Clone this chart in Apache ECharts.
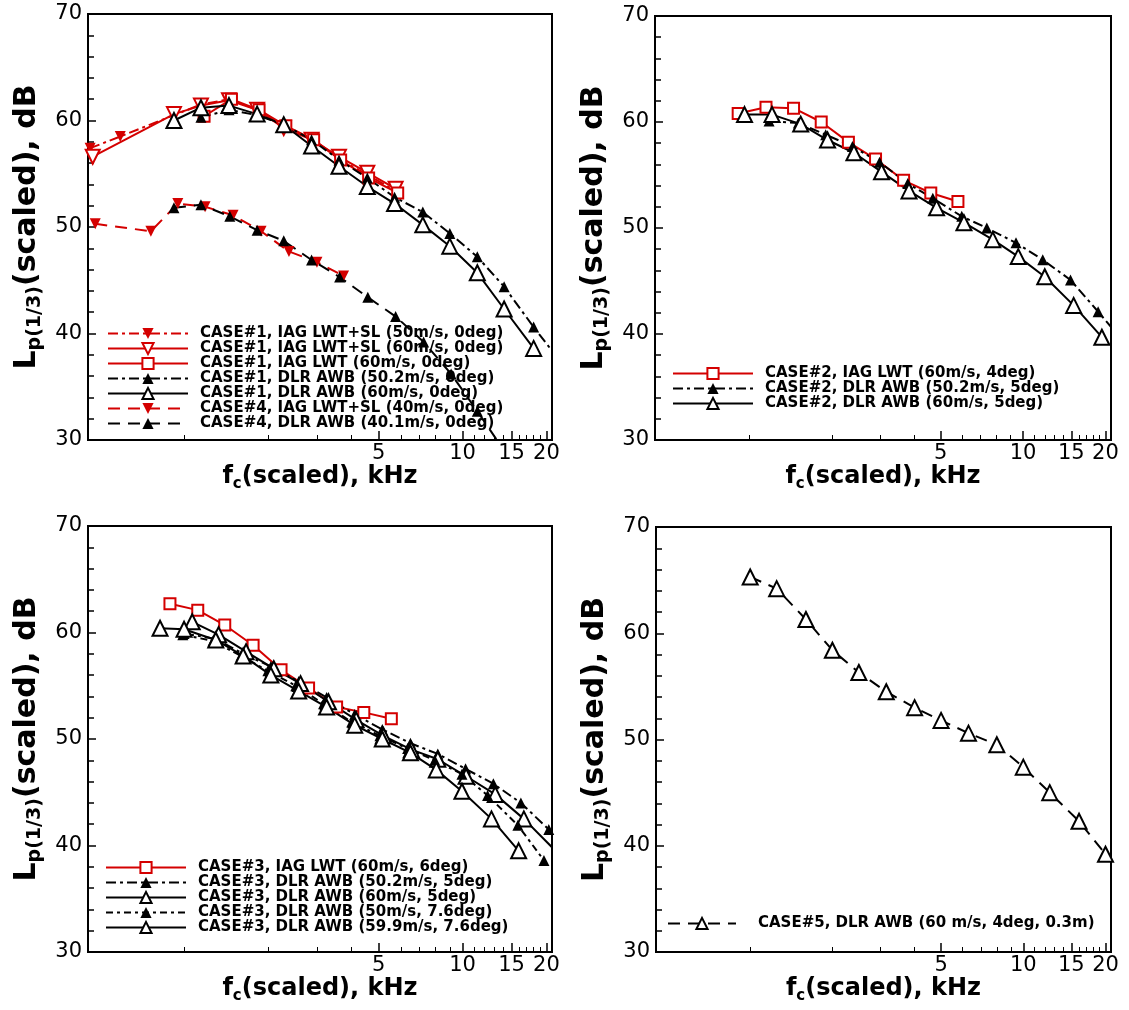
<!DOCTYPE html>
<html>
<head>
<meta charset="utf-8">
<script src="https://cdn.jsdelivr.net/npm/echarts@6.0.0/dist/echarts.min.js"></script>
<style>
  html, body { margin: 0; padding: 0; background: #fff; }
  #chart { width: 1129px; height: 1010px; }
</style>
</head>
<body>
<div id="chart"></div>
<script>
// frequencies in kHz, levels in dB

// CASE#1 / CASE#4 (top left)
const c1IagSl50Freq = [0.46, 0.59, 0.92, 1.15, 1.45, 1.83, 2.28, 2.87, 3.6, 4.55, 5.75];
const c1IagSl50Level = [57.4, 58.5, 60.5, 61.5, 62.0, 61.0, 59.4, 58.3, 56.4, 54.9, 53.4];
const c1IagSl60Freq = [0.47, 0.92, 1.15, 1.45, 1.83, 2.28, 2.87, 3.6, 4.55, 5.75];
const c1IagSl60Level = [56.6, 60.6, 61.4, 61.9, 61.0, 59.3, 58.2, 56.6, 55.1, 53.6];
const c1Iag60Freq = [1.18, 1.48, 1.86, 2.32, 2.92, 3.65, 4.6, 5.85];
const c1Iag60Level = [60.4, 62.0, 61.0, 59.5, 58.2, 56.3, 54.6, 53.2];
const c1Dlr50Freq = [1.15, 1.45, 1.83, 2.28, 2.87, 3.6, 4.55, 5.7, 7.2, 9.0, 11.3, 14.1, 18.0, 22.4];
const c1Dlr50Level = [60.3, 61.0, 60.5, 59.6, 58.2, 56.3, 54.6, 52.8, 51.4, 49.4, 47.2, 44.4, 40.6, 37.4];
const c1Dlr60Freq = [0.92, 1.15, 1.45, 1.83, 2.28, 2.87, 3.6, 4.55, 5.7, 7.2, 9.0, 11.3, 14.1, 18.0];
const c1Dlr60Level = [60.0, 61.2, 61.4, 60.6, 59.6, 57.6, 55.7, 53.8, 52.2, 50.2, 48.2, 45.7, 42.3, 38.6];
const c4IagSl40Freq = [0.48, 0.76, 0.95, 1.19, 1.5, 1.89, 2.38, 3.0, 3.74];
const c4IagSl40Level = [50.3, 49.6, 52.2, 51.9, 51.1, 49.6, 47.7, 46.7, 45.4];
const c4Dlr40Freq = [0.92, 1.15, 1.46, 1.83, 2.28, 2.87, 3.62, 4.57, 5.75, 7.25, 9.1, 11.3, 14.1];
const c4Dlr40Level = [51.8, 52.1, 51.0, 49.7, 48.7, 46.9, 45.3, 43.4, 41.6, 39.2, 36.2, 32.7, 29.0];

// CASE#2 (top right)
const c2Iag60Freq = [0.91, 1.15, 1.45, 1.83, 2.3, 2.89, 3.66, 4.6, 5.78];
const c2Iag60Level = [60.8, 61.4, 61.3, 60.0, 58.1, 56.5, 54.5, 53.3, 52.5];
const c2Dlr50Freq = [1.18, 1.51, 1.9, 2.38, 2.99, 3.79, 4.68, 5.97, 7.37, 9.42, 11.8, 14.9, 18.8, 23.6];
const c2Dlr50Level = [60.1, 59.9, 58.8, 57.7, 56.2, 54.2, 52.8, 51.1, 50.0, 48.6, 47.0, 45.1, 42.1, 39.1];
const c2Dlr60Freq = [0.96, 1.21, 1.54, 1.93, 2.41, 3.04, 3.83, 4.83, 6.08, 7.75, 9.6, 12.0, 15.3, 19.4];
const c2Dlr60Level = [60.7, 60.7, 59.8, 58.3, 57.1, 55.3, 53.5, 51.9, 50.5, 48.9, 47.3, 45.4, 42.7, 39.7];

// CASE#3 (bottom left)
const c3Iag60Freq = [0.89, 1.12, 1.4, 1.77, 2.23, 2.8, 3.53, 4.42, 5.55];
const c3Iag60Level = [62.7, 62.1, 60.7, 58.8, 56.5, 54.8, 53.0, 52.5, 51.9];
const c3Dlr50a5Freq = [1.0, 1.3, 1.63, 2.05, 2.58, 3.25, 4.1, 5.15, 6.5, 8.15, 10.25, 12.9, 16.2, 20.4];
const c3Dlr50a5Level = [59.9, 59.4, 58.0, 56.8, 55.4, 53.9, 52.3, 50.9, 49.6, 48.6, 47.2, 45.8, 44.0, 41.5];
const c3Dlr60a5Freq = [1.07, 1.33, 1.67, 2.1, 2.62, 3.3, 4.15, 5.2, 6.55, 8.15, 10.3, 13.1, 16.6, 21.2];
const c3Dlr60a5Level = [61.0, 59.8, 58.2, 56.6, 55.2, 53.5, 51.8, 50.3, 49.0, 48.1, 46.5, 44.8, 42.5, 39.7];
const c3Dlr50a76Freq = [0.99, 1.27, 1.6, 2.0, 2.52, 3.17, 4.0, 5.05, 6.35, 7.95, 9.95, 12.3, 15.8, 19.6];
const c3Dlr50a76Level = [59.8, 59.2, 57.8, 56.4, 55.0, 53.3, 51.6, 50.3, 49.1, 48.0, 46.7, 44.7, 41.9, 38.6];
const c3Dlr60a76Freq = [0.82, 1.0, 1.3, 1.63, 2.05, 2.58, 3.25, 4.1, 5.15, 6.5, 8.05, 9.95, 12.7, 15.9];
const c3Dlr60a76Level = [60.4, 60.3, 59.3, 57.8, 56.0, 54.5, 53.0, 51.3, 50.0, 48.7, 47.1, 45.1, 42.5, 39.5];

// CASE#5 (bottom right)
const c5Freq = [1, 1.25, 1.6, 2, 2.5, 3.15, 4, 5, 6.3, 8, 10, 12.5, 16, 20];
const c5Level = [65.3, 64.2, 61.3, 58.4, 56.3, 54.5, 53.0, 51.8, 50.6, 49.5, 47.4, 45.0, 42.3, 39.2];

// axis ticks
const freqMin = 0.452;
const freqMax = 20.95;
const labelFreqs = [5, 10, 15, 20];
const minorFreqs = [1, 2, 3, 4, 6, 7, 8, 9, 11, 12, 13, 14, 16, 17, 18, 19];

const RED = '#d40000';
const BLACK = '#000000';
const DASHDOT = [10, 4, 3, 4];
const DASHDOT2 = [7, 4, 3, 4];
const DASHED = [12, 8];
const FONT = 'DejaVu Sans';

const lg = v => Math.log10(v);
const pts = (f, l) => f.map((v, i) => [lg(v), l[i]]);

const line = (name, grid, freq, level, color, dash, symbol, size, rotate) => ({
  name,
  type: 'line',
  xAxisIndex: grid * 2,
  yAxisIndex: grid,
  data: pts(freq, level),
  symbol,
  symbolSize: size,
  symbolRotate: rotate || 0,
  showAllSymbol: true,
  clip: true,
  lineStyle: { color, width: 2, type: dash },
  itemStyle: { color },
  emphasis: { disabled: true }
});

const grids = [
  { left: 88, top: 14, width: 464, height: 426 },
  { left: 655, top: 16, width: 456, height: 424 },
  { left: 88, top: 526, width: 464, height: 426 },
  { left: 656, top: 527, width: 455, height: 425 }
].map(g => ({ ...g, show: true, borderColor: BLACK, borderWidth: 2 }));

const titleStyle = (size, sub) => ({
  fontFamily: FONT,
  color: BLACK,
  rich: {
    m: { fontFamily: FONT, fontWeight: 'bold', fontSize: size, lineHeight: size + 6, color: BLACK },
    s: { fontFamily: FONT, fontWeight: 'bold', fontSize: sub, lineHeight: 10, verticalAlign: 'bottom', color: BLACK }
  }
});

const xAxes = [];
grids.forEach((g, i) => {
  xAxes.push({
    gridIndex: i,
    type: 'value',
    position: 'bottom',
    min: lg(freqMin),
    max: lg(freqMax),
    name: '{m|f}{s|c}{m|(scaled), kHz}',
    nameLocation: 'middle',
    nameGap: 22,
    nameTextStyle: titleStyle(24, 15),
    axisLine: { onZero: false, lineStyle: { color: BLACK, width: 2 } },
    axisTick: {
      inside: true,
      length: 9,
      customValues: labelFreqs.map(lg),
      lineStyle: { color: BLACK, width: 1.5 }
    },
    axisLabel: {
      customValues: labelFreqs.map(lg),
      formatter: v => String(Math.round(Math.pow(10, v))),
      fontFamily: FONT,
      fontSize: 21,
      color: BLACK,
      margin: 3
    },
    splitLine: { show: false }
  });
  xAxes.push({
    gridIndex: i,
    type: 'value',
    position: 'bottom',
    min: lg(freqMin),
    max: lg(freqMax),
    axisLine: { show: false, onZero: false },
    axisTick: {
      inside: true,
      length: 5,
      customValues: minorFreqs.map(lg),
      lineStyle: { color: BLACK, width: 1 }
    },
    axisLabel: { show: false },
    splitLine: { show: false }
  });
});

const yAxes = grids.map((g, i) => ({
  gridIndex: i,
  type: 'value',
  min: 30,
  max: 70,
  interval: 10,
  name: '{m|L}{s|p(1/3)}{m|(scaled), dB}',
  nameLocation: 'middle',
  nameRotate: 90,
  nameGap: 43,
  nameTextStyle: titleStyle(30, 19),
  axisLine: { show: true, onZero: false, lineStyle: { color: BLACK, width: 2 } },
  axisTick: { inside: true, length: 8, lineStyle: { color: BLACK, width: 1.5 } },
  minorTick: { show: true, splitNumber: 5, length: 6, lineStyle: { color: BLACK, width: 1.5 } },
  axisLabel: { fontFamily: FONT, fontSize: 21, color: BLACK, margin: 6 },
  splitLine: { show: false }
}));

const series = [
  line('CASE#1, IAG LWT+SL (50m/s, 0deg)', 0, c1IagSl50Freq, c1IagSl50Level, RED, DASHDOT, 'triangle', 11, 180),
  line('CASE#1, IAG LWT+SL (60m/s, 0deg)', 0, c1IagSl60Freq, c1IagSl60Level, RED, 'solid', 'emptyTriangle', 14, 180),
  line('CASE#1, IAG LWT (60m/s, 0deg)', 0, c1Iag60Freq, c1Iag60Level, RED, 'solid', 'emptyRect', 11),
  line('CASE#1, DLR AWB (50.2m/s, 0deg)', 0, c1Dlr50Freq, c1Dlr50Level, BLACK, DASHDOT, 'triangle', 11),
  line('CASE#1, DLR AWB (60m/s, 0deg)', 0, c1Dlr60Freq, c1Dlr60Level, BLACK, 'solid', 'emptyTriangle', 15),
  line('CASE#4, IAG LWT+SL (40m/s, 0deg)', 0, c4IagSl40Freq, c4IagSl40Level, RED, DASHED, 'triangle', 11, 180),
  line('CASE#4, DLR AWB (40.1m/s, 0deg)', 0, c4Dlr40Freq, c4Dlr40Level, BLACK, DASHED, 'triangle', 11),

  line('CASE#2, IAG LWT (60m/s, 4deg)', 1, c2Iag60Freq, c2Iag60Level, RED, 'solid', 'emptyRect', 11),
  line('CASE#2, DLR AWB (50.2m/s, 5deg)', 1, c2Dlr50Freq, c2Dlr50Level, BLACK, DASHDOT, 'triangle', 11),
  line('CASE#2, DLR AWB (60m/s, 5deg)', 1, c2Dlr60Freq, c2Dlr60Level, BLACK, 'solid', 'emptyTriangle', 15),

  line('CASE#3, IAG LWT (60m/s, 6deg)', 2, c3Iag60Freq, c3Iag60Level, RED, 'solid', 'emptyRect', 11),
  line('CASE#3, DLR AWB (50.2m/s, 5deg)', 2, c3Dlr50a5Freq, c3Dlr50a5Level, BLACK, DASHDOT, 'triangle', 11),
  line('CASE#3, DLR AWB (60m/s, 5deg)', 2, c3Dlr60a5Freq, c3Dlr60a5Level, BLACK, 'solid', 'emptyTriangle', 15),
  line('CASE#3, DLR AWB (50m/s, 7.6deg)', 2, c3Dlr50a76Freq, c3Dlr50a76Level, BLACK, DASHDOT2, 'triangle', 11),
  line('CASE#3, DLR AWB (59.9m/s, 7.6deg)', 2, c3Dlr60a76Freq, c3Dlr60a76Level, BLACK, 'solid', 'emptyTriangle', 15),

  line('CASE#5, DLR AWB (60 m/s, 4deg, 0.3m)', 3, c5Freq, c5Level, BLACK, DASHED, 'emptyTriangle', 15)
];

const legendText = { fontFamily: FONT, fontWeight: 'bold', fontSize: 15, lineHeight: 14, color: BLACK, padding: [0, 0, 0, 7] };
const legendBase = {
  orient: 'vertical',
  itemWidth: 80,
  itemHeight: 14,
  itemGap: 0,
  padding: 0,
  selectedMode: false,
  textStyle: legendText
};
const namesIn = g => series.filter(s => s.yAxisIndex === g).map(s => s.name);

const chart = echarts.init(document.getElementById('chart'));
chart.setOption({
  animation: false,
  backgroundColor: '#ffffff',
  grid: grids,
  xAxis: xAxes,
  yAxis: yAxes,
  legend: [
    { ...legendBase, data: namesIn(0), left: 107, top: 326 },
    { ...legendBase, data: namesIn(1), left: 672, top: 366 },
    { ...legendBase, data: namesIn(2), left: 105, top: 860 },
    { ...legendBase, data: namesIn(3), left: 667, top: 916, itemWidth: 68,
      textStyle: { ...legendText, padding: [0, 0, 0, 17] } }
  ],
  series
});
</script>
</body>
</html>
